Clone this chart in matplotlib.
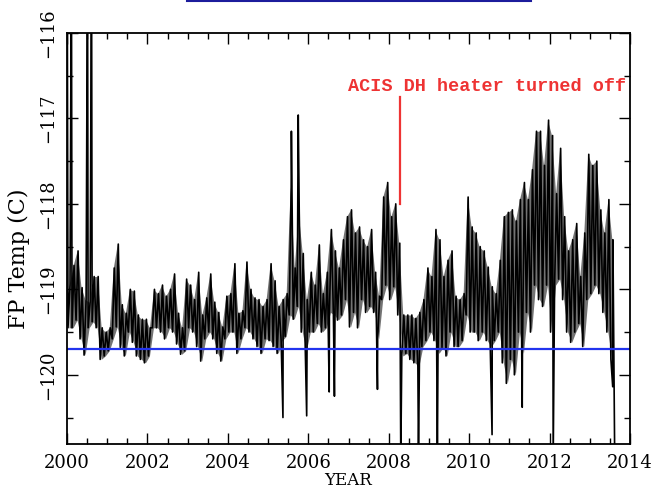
#ACIS focal plane temperature, 2000-2014
import numpy as np
import matplotlib
matplotlib.use('Agg')
import matplotlib.pyplot as plt
from matplotlib.lines import Line2D

plt.rcParams['font.family'] = 'DejaVu Serif'

# envelope of the FP temperature, one (low, high) pair every 0.1 yr from 2000.0
bin_start = 2000.0
bin_width = 0.1
fp_hi = [-118.95, -118.72, -118.55, -118.98, -119.12, -119.15, -118.85, -118.85, -119.45, -119.50,
         -119.45, -118.75, -118.47, -119.18, -119.28, -119.00, -119.02, -119.30, -119.35, -119.35,
         -119.45, -119.00, -119.05, -118.95, -119.08, -119.00, -118.82, -119.28, -119.45, -118.88,
         -118.95, -119.12, -118.80, -119.30, -119.10, -118.82, -119.15, -119.27, -119.44, -119.08,
         -119.05, -118.70, -119.28, -119.25, -118.68, -119.00, -119.10, -119.12, -119.20, -119.12,
         -118.70, -118.90, -119.20, -119.12, -119.05, -117.80, -118.75, -118.10, -118.58, -119.12,
         -118.80, -118.95, -118.48, -119.05, -118.80, -118.30, -118.55, -118.75, -118.42, -118.15,
         -118.07, -118.34, -118.27, -118.42, -118.50, -118.30, -118.80, -119.08, -117.92, -117.75,
         -118.15, -118.00, -118.46, -119.30, -119.30, -119.30, -119.34, -119.27, -119.12, -118.75,
         -118.85, -118.30, -118.42, -118.85, -118.66, -118.55, -119.08, -119.12, -119.05, -117.92,
         -118.27, -118.34, -118.50, -118.55, -118.74, -118.97, -119.05, -118.66, -118.15, -118.10,
         -118.07, -118.20, -117.95, -117.75, -117.95, -117.60, -117.15, -117.15, -117.55, -117.02,
         -117.20, -117.88, -117.35, -118.15, -118.55, -118.42, -118.23, -118.85, -118.34, -117.42,
         -117.55, -117.50, -118.07, -118.34, -117.95, -118.42]
fp_lo = [-119.45, -119.45, -119.36, -119.58, -119.77, -119.45, -119.38, -119.45, -119.82, -119.78,
         -119.72, -119.58, -119.44, -119.68, -119.78, -119.50, -119.62, -119.78, -119.82, -119.86,
         -119.78, -119.45, -119.45, -119.50, -119.58, -119.45, -119.50, -119.64, -119.76, -119.72,
         -119.45, -119.50, -119.67, -119.84, -119.58, -119.50, -119.58, -119.75, -119.84, -119.58,
         -119.50, -119.50, -119.75, -119.58, -119.45, -119.50, -119.58, -119.67, -119.75, -119.58,
         -119.60, -119.67, -119.75, -119.60, -119.55, -119.30, -119.35, -119.20, -119.50, -119.72,
         -119.50, -119.50, -119.40, -119.50, -119.45, -119.27, -119.30, -119.36, -119.30, -119.12,
         -119.44, -119.27, -119.45, -119.12, -119.27, -119.20, -119.27, -119.58, -119.12, -118.95,
         -119.12, -118.97, -119.30, -119.78, -119.75, -119.82, -119.86, -119.90, -119.67, -119.60,
         -119.50, -119.60, -119.75, -119.68, -119.78, -119.50, -119.67, -119.67, -119.60, -119.30,
         -119.50, -119.50, -119.60, -119.50, -119.60, -119.67, -119.60, -119.50, -119.86, -120.10,
         -119.82, -120.00, -119.50, -119.75, -119.27, -119.50, -118.95, -119.12, -119.20, -118.95,
         -119.50, -118.95, -118.88, -119.12, -119.50, -119.62, -119.50, -119.40, -119.67, -119.12,
         -119.05, -118.95, -119.05, -119.27, -119.50, -119.82]

# isolated excursions (time, temp)
spike_t = [2000.005, 2000.11, 2000.51, 2000.61, 2005.37, 2005.58, 2005.75, 2005.96, 2006.52,
           2006.65, 2007.72, 2008.30, 2008.74, 2009.21, 2010.57, 2011.32, 2012.09, 2013.57, 2013.62]
spike_v = [-115.0, -115.0, -115.0, -115.0, -120.50, -117.15, -116.96, -120.48, -120.20,
           -120.25, -120.17, -121.0, -121.0, -121.0, -120.70, -120.38, -121.0, -120.14, -121.0]

limit = -119.7          # blue reference level
heater_off = 2008.27    # ACIS DH heater turned off

nb = len(fp_hi)
t0 = bin_start + bin_width*np.arange(nb)
t = np.concatenate([t0 + 0.25*bin_width, t0 + 0.75*bin_width, spike_t])
v = np.concatenate([fp_lo, fp_hi, spike_v])
order = np.argsort(t, kind='stable')
t, v = t[order], v[order]

fig = plt.figure(figsize=(6.52, 4.92), dpi=100)
ax = fig.add_axes([67/652, 1-444/492, 563/652, 411/492])

# shaded envelope under the trace to give the dense look of the daily data
ax.fill_between(t0 + 0.5*bin_width, fp_lo, fp_hi, color='black', lw=0, alpha=0.55)
ax.plot(t, v, color='black', lw=1.2)
ax.axhline(limit, color='#2233ee', lw=1.6)
ax.plot([heater_off, heater_off], [-116.75, -118.0], color='#ee3333', lw=1.6)
ax.text(2006.99, -116.63, 'ACIS DH heater turned off', color='#ee3333',
        family='Liberation Mono', fontweight='bold', fontsize=13.3, ha='left', va='center')

ax.set_xlim(2000, 2014)
ax.set_ylim(-120.81, -116)
ax.set_xticks(np.arange(2000, 2015, 2))
ax.set_xticks(np.arange(2000, 2014.1, 0.5), minor=True)
ax.set_yticks(np.arange(-120, -115.9, 1))
ax.set_yticks(np.arange(-120.5, -115.9, 0.5), minor=True)
ax.tick_params(which='both', direction='in', top=True, right=True, width=1.0, labelsize=13)
ax.tick_params(which='major', length=8)
ax.tick_params(which='minor', length=4)
ax.tick_params(axis='x', pad=7)
ax.tick_params(axis='y', pad=7)
for lab in ax.get_yticklabels():
    lab.set_rotation(90)
    lab.set_va('center')
for s in ax.spines.values():
    s.set_linewidth(1.3)

ax.set_xlabel('YEAR', fontsize=12)
ax.xaxis.set_label_coords(0.5, -0.068)
ax.set_ylabel('FP Temp (C)', fontsize=16)
ax.yaxis.set_label_coords(-0.066, 0.45)

# clipped link underline at the very top of the page
fig.add_artist(Line2D([187/652, 531/652], [1-1/492, 1-1/492], color='#1c1c9c', lw=1.5,
                      transform=fig.transFigure))

fig.savefig('out.png', dpi=100)
